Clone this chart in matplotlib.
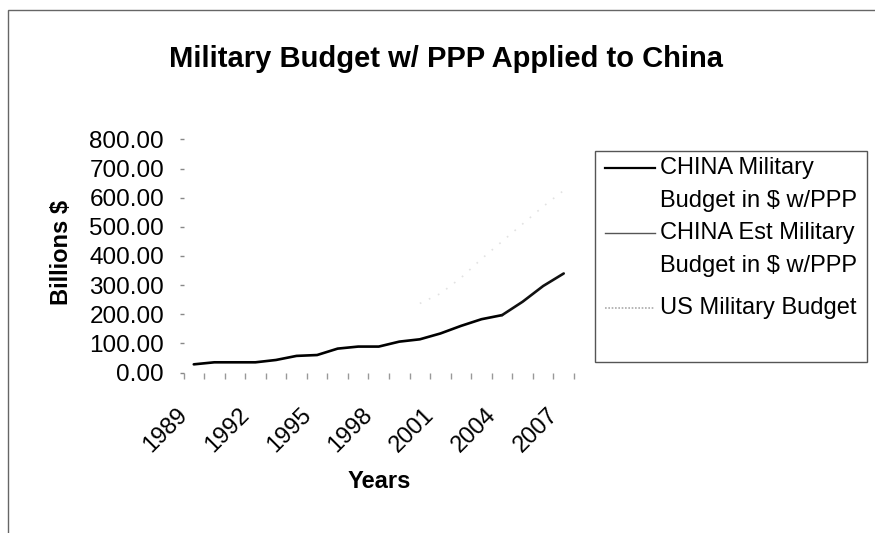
import numpy as np
import matplotlib
matplotlib.use("Agg")
import matplotlib.pyplot as plt
from matplotlib.lines import Line2D
from matplotlib.patches import Rectangle
from matplotlib.transforms import ScaledTranslation, blended_transform_factory

plt.rcParams['font.family'] = ['Liberation Sans', 'DejaVu Sans']

# data (billions of dollars)
years = list(range(1989, 2008))
china_ppp = [28, 35, 35, 35, 43, 57, 60, 82, 89, 89, 106, 114, 134, 160, 183, 197,
             None, None, None]
china_est_ppp = [None] * 15 + [197, 243, 297, 340]
us_budget = [None] * 11 + [237, 271, 325, 390, 450, 510, 570, 625]
y_ticks = [0, 100, 200, 300, 400, 500, 600, 700, 800]
year_labels = ['1989', '1992', '1995', '1998', '2001', '2004', '2007']

W, H = 875, 533
fig = plt.figure(figsize=(W / 100, H / 100), dpi=100)
fig.patch.set_facecolor('white')


# pixel (from top-left) -> figure fraction
def px(x, y):
    return x / W, 1 - y / H


ax_left, ax_right, ax_top, ax_bot = 183.5, 574, 139.5, 372.5
ax = fig.add_axes([ax_left / W, 1 - ax_bot / H, (ax_right - ax_left) / W,
                   (ax_bot - ax_top) / H])

idx = np.arange(len(years))


def to_arr(vals):
    return np.array([np.nan if v is None else v for v in vals], dtype=float)


# the US series is almost washed out in the scan
ax.plot(idx, to_arr(us_budget), color='#e2e2e2', lw=1.2, ls=(0, (1, 5)))
ax.plot(idx, to_arr(china_ppp), color='black', lw=1.9, solid_capstyle='round')
ax.plot(idx, to_arr(china_est_ppp), color='#111111', lw=1.9, solid_capstyle='round')

ax.set_xlim(-0.5, len(years) - 0.5)
ax.set_ylim(0, 800)
for s in ax.spines.values():
    s.set_visible(False)

ax.set_yticks(y_ticks)
ax.set_yticklabels(['%.2f' % v for v in y_ticks], fontsize=17.5)
ax.tick_params(axis='y', length=3, width=1, color='#888888', pad=11)

# category boundary ticks, labels every third year (excel style, set left of the tick)
ax.set_xticks(np.arange(-0.5, len(years)))
ax.set_xticklabels([])
ax.tick_params(axis='x', length=4, width=1, color='#999999')
lab_trans = blended_transform_factory(ax.transData, ax.transAxes) + \
    ScaledTranslation(-17 / 100, -31 / 100, fig.dpi_scale_trans)
for y in year_labels:
    ax.text(years.index(int(y)), 0, y, transform=lab_trans, fontsize=17,
            rotation=45, ha='right', va='top', rotation_mode='anchor')

fig.text(*px(379, 482), 'Years', ha='center', va='center', fontsize=17,
         fontweight='bold')
fig.text(*px(62, 252), 'Billions $', rotation=90, ha='center', va='center',
         fontsize=17, fontweight='bold')

fig.text(*px(446, 67), 'Military Budget w/ PPP Applied to China',
         ha='center', va='baseline', fontsize=21, fontweight='bold')

# outer chart frame (scan shows top and left edges)
x0, y0 = px(8, 10)
fig.patches.append(Rectangle((x0, -0.1), 1.2, y0 + 0.1, transform=fig.transFigure,
                             fill=False, edgecolor='#666666', lw=1))

# legend box drawn by hand, sample lines aligned with the first text line
lx0, ly0 = px(595, 362)
lx1, ly1 = px(867, 151)
fig.patches.append(Rectangle((lx0, ly0), lx1 - lx0, ly1 - ly0,
                             transform=fig.transFigure, fill=False,
                             edgecolor='#555555', lw=1))
entries = [
    (['CHINA Military', 'Budget in $ w/PPP'], dict(color='black', lw=1.6, ls='-'), 168),
    (['CHINA Est Military', 'Budget in $ w/PPP'], dict(color='#555555', lw=1.0, ls='-'), 233),
    (['US Military Budget'], dict(color='#aaaaaa', lw=1.2, ls=(0, (1, 1))), 308),
]
for lines, style, ytop in entries:
    xa, ya = px(605, ytop)
    xb, _ = px(655, ytop)
    fig.lines.append(Line2D([xa, xb], [ya, ya], transform=fig.transFigure, **style))
    for k, t in enumerate(lines):
        fig.text(*px(660, ytop + 33 * k), t, ha='left', va='center', fontsize=17)

fig.savefig('out.png', dpi=100)
